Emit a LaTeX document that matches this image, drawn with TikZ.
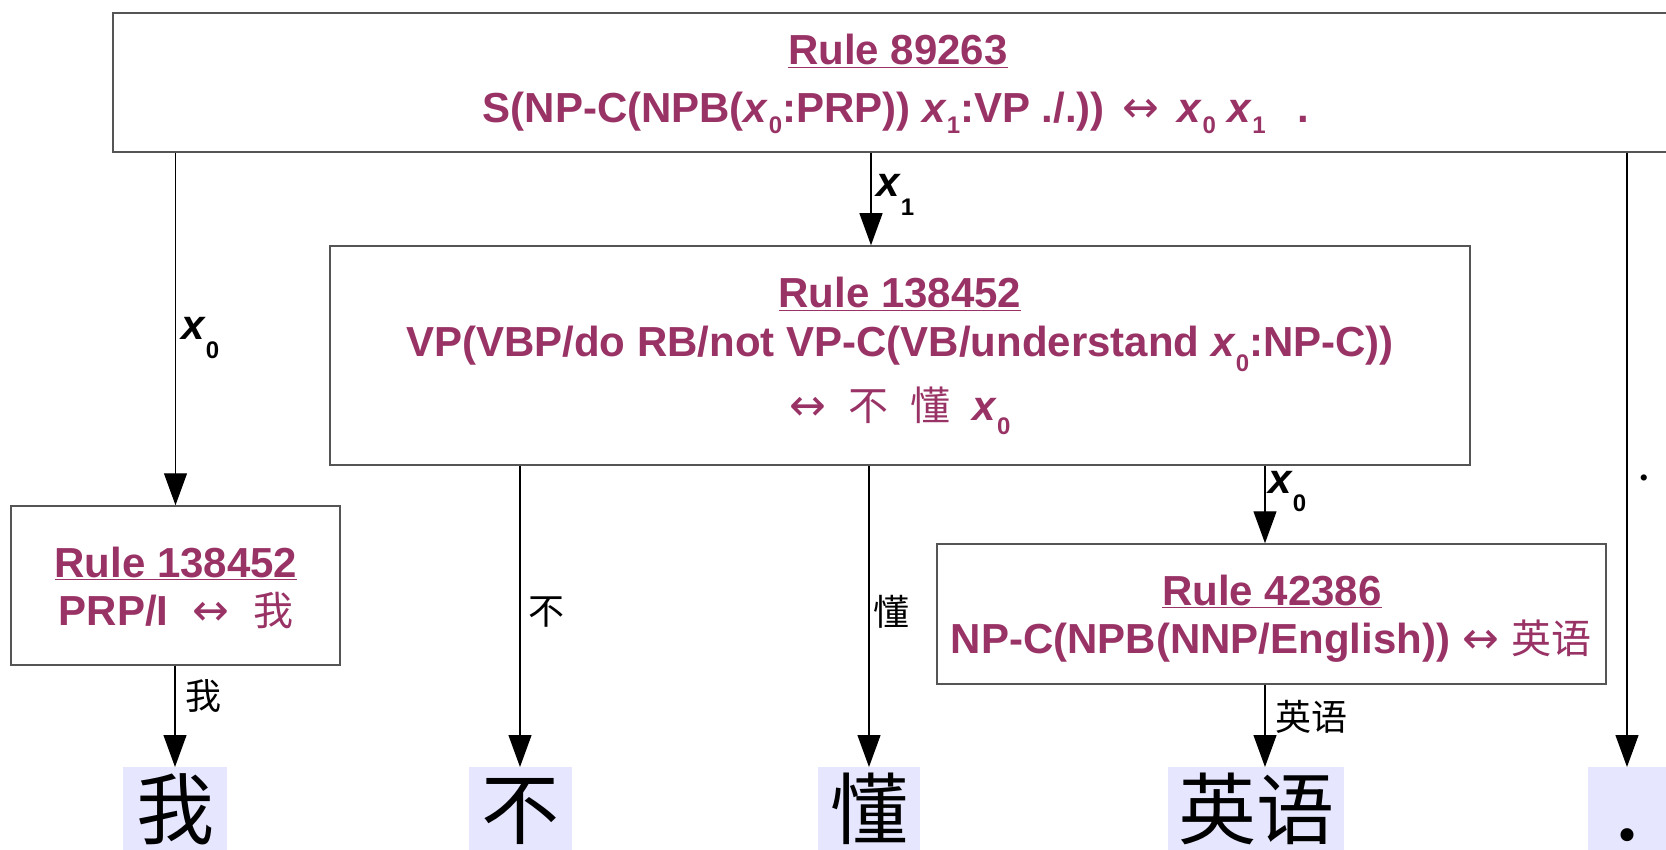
\documentclass[tikz,border=0pt]{standalone}
\usepackage{fontspec}
\setmainfont{Liberation Sans}
\newfontfamily\cjk{Noto Sans CJK SC}
\newfontfamily\sym{DejaVu Sans}
\newfontfamily\serif{Liberation Serif}
\usetikzlibrary{arrows.meta}
\definecolor{plum}{HTML}{993366}
\definecolor{lav}{HTML}{E6E6FF}
\definecolor{boxline}{HTML}{555555}
\newcommand{\xsub}[2][0.35em]{\textit{x}\raisebox{-#1}{\fontsize{24}{24}\selectfont #2}}
\newcommand{\lrarr}{{\sym\mdseries\fontsize{44}{44}\selectfont ↔}}
\newcommand{\cjkin}[1]{{\cjk\mdseries\fontsize{40}{40}\selectfont #1}}
\tikzset{
  rulebox/.style={draw=boxline, line width=1.5pt, fill=white, inner sep=0pt},
  ruletext/.style={anchor=base, text=plum, font=\fontsize{42}{48}\selectfont\bfseries, inner sep=0pt},
  conn/.style={draw=black, line width=1.2pt, -{Triangle[length=32pt,width=23pt]}},
  lab/.style={font=\fontsize{42}{48}\selectfont\bfseries, inner sep=0pt, anchor=base west},
  cjklab/.style={font=\cjk\fontsize{36}{40}\selectfont, inner sep=0pt},
  wordbox/.style={fill=lav, inner sep=0pt, anchor=north, minimum height=83pt},
  word/.style={font=\cjk\fontsize{78}{80}\selectfont, anchor=base, inner sep=0pt}
}
\begin{document}
\begin{tikzpicture}[x=1pt,y=-1pt]
\useasboundingbox (0,0) rectangle (1666,850);
\clip (0,0) rectangle (1666,850);
% boxes
\node[rulebox, minimum width=1570pt, minimum height=139pt] (top) at (898,82.5) {};
\node[rulebox, minimum width=1140pt, minimum height=219pt] (vp) at (900,355.5) {};
\node[rulebox, minimum width=329pt, minimum height=159pt] (prp) at (175.5,585.5) {};
\node[rulebox, minimum width=669pt, minimum height=140pt] (np) at (1271.5,614) {};
% box texts
\node[ruletext] (topa) at (898,65) {\underline{Rule 89263}};
\node[ruletext] (topb) at (896,123) {S(NP-C(NPB(\xsub[0.25em]{0}:PRP)) \xsub[0.25em]{1}:VP ./.))\hspace{18pt}\lrarr\hspace{18pt}\xsub[0.25em]{0} \xsub[0.25em]{1}\hspace{32pt}.};
\node[ruletext] (vpa) at (900,308) {\underline{Rule 138452}};
\node[ruletext] (vpb) at (900,357) {VP(VBP/do RB/not VP-C(VB/understand \xsub{0}:NP-C))};
\node[ruletext] (vpc) at (900,420) {\lrarr\hspace{22pt}\cjkin{不}\hspace{22pt}\cjkin{懂}\hspace{22pt}\xsub{0}};
\node[ruletext] (prpa) at (176,577) {\underline{Rule 138452}};
\node[ruletext] (prpb) at (176,625) {PRP/I\hspace{24pt}\lrarr\hspace{24pt}\cjkin{我}};
\node[ruletext] (npa) at (1272,605) {\underline{Rule 42386}};
\node[ruletext] (npb) at (1271,653) {NP-C(NPB(NNP/English))\hspace{12pt}\lrarr\hspace{12pt}\cjkin{英语}};
% word boxes
\node[wordbox, minimum width=104pt] (w1) at (175,767) {};
\node[wordbox, minimum width=103pt] (w2) at (520,767) {};
\node[wordbox, minimum width=102pt] (w3) at (869,767) {};
\node[wordbox, minimum width=176pt] (w4) at (1256,767) {};
\node[wordbox, minimum width=78pt] (w5) at (1627,767) {};
\node[word] (t1) at (175,838) {我};
\node[word] (t2) at (520,838) {不};
\node[word] (t3) at (869,838) {懂};
\node[word] (t4) at (1256,838) {英语};
\node[word, font=\serif\bfseries\fontsize{80}{80}\selectfont] (t5) at (1627,840) {.};
% coordinates for connector x positions
\coordinate (cx1) at (871,0);
\coordinate (cx2) at (1265,0);
% connectors
\draw[conn] (top.south -| prp.north) -- (prp.north);
\draw[conn] (top.south -| cx1) -- (vp.north -| cx1);
\draw[conn] (top.south -| w5.north) -- (w5.north);
\draw[conn] (prp.south -| w1.north) -- (w1.north);
\draw[conn] (vp.south -| w2.north) -- (w2.north);
\draw[conn] (vp.south -| w3.north) -- (w3.north);
\draw[conn] (vp.south -| cx2) -- (np.north -| cx2);
\draw[conn] (np.south -| cx2) -- (w4.north -| cx2);
% connector labels
\node[lab] (l1) at (181,340) {\xsub[0.45em]{0}};
\node[lab] (l2) at (876,197) {\xsub[0.45em]{1}};
\node[lab] (l3) at (1268,493) {\xsub[0.45em]{0}};
\node[lab, font=\serif\bfseries\fontsize{38}{40}\selectfont] (l4) at (1639,480) {.};
\node[cjklab] (l5) at (546,612) {不};
\node[cjklab] (l6) at (891,612) {懂};
\node[cjklab] (l7) at (203,696) {我};
\node[cjklab] (l8) at (1311,717) {英语};
\end{tikzpicture}
\end{document}
